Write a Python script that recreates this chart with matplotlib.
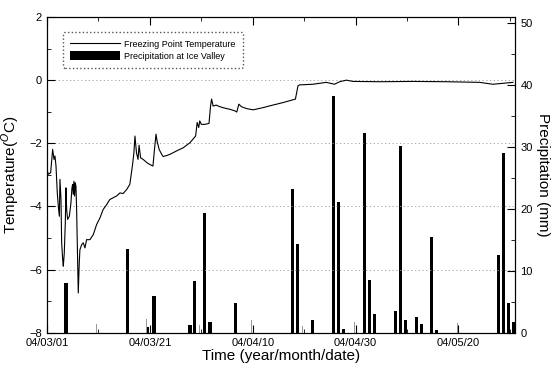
import matplotlib.pyplot as plt
from matplotlib.ticker import MultipleLocator

plt.rcParams['font.family'] = ['Liberation Sans', 'DejaVu Sans']

# Freezing point temperature (days since 04/03/01, degC)
temp_day = [0.0, 0.26, 0.71, 1.1, 1.36, 1.55, 1.75, 2.0, 2.2, 2.4, 2.52, 2.72, 2.85, 3.05,
            3.17, 3.36, 3.56, 3.69, 3.82, 4.01, 4.34, 4.66, 4.85, 4.98, 5.11, 5.24, 5.37,
            5.5, 5.63, 5.76, 5.95, 6.08, 6.27, 6.4, 6.73, 7.05, 7.38, 7.7, 8.35, 9.0, 9.65,
            10.3, 10.9, 11.6, 12.2, 12.9, 13.5, 14.2, 14.8, 15.5, 16.1, 16.6, 16.9, 17.1,
            17.4, 17.7, 17.9, 18.2, 18.7, 19.4, 20.0, 20.6, 20.9, 21.2, 21.4, 21.8, 22.3,
            22.6, 23.9, 25.2, 26.5, 27.8, 28.9, 29.2, 29.5, 29.7, 30.0, 30.7, 31.5, 31.8,
            32.0, 32.3, 32.9, 33.6, 34.2, 34.9, 35.5, 36.5, 36.9, 37.3, 37.8, 38.8, 40.1,
            42.0, 43.9, 45.9, 48.3, 48.8, 49.1, 51.7, 54.3, 55.9, 56.9, 58.2, 59.5, 64.7,
            71.1, 77.6, 84.1, 86.7, 90.6]
temp_val = [-2.83, -2.98, -2.93, -2.19, -2.51, -2.40, -2.72, -3.57, -3.99, -4.31, -3.14,
            -3.78, -5.15, -5.68, -5.89, -5.47, -4.52, -3.41, -4.10, -4.41, -4.31, -3.88,
            -3.41, -3.30, -3.62, -3.20, -3.67, -3.25, -3.36, -4.10, -5.68, -6.74, -5.79,
            -5.37, -5.21, -5.15, -5.31, -5.05, -5.05, -4.89, -4.57, -4.36, -4.10, -3.94,
            -3.78, -3.72, -3.67, -3.57, -3.59, -3.46, -3.30, -2.72, -2.30, -1.77, -2.30,
            -2.51, -2.06, -2.46, -2.51, -2.61, -2.67, -2.72, -2.19, -1.71, -1.93, -2.19,
            -2.35, -2.42, -2.35, -2.24, -2.14, -1.98, -1.77, -1.34, -1.50, -1.29, -1.40,
            -1.40, -1.37, -0.82, -0.60, -0.82, -0.79, -0.84, -0.87, -0.90, -0.92, -0.97,
            -1.01, -0.76, -0.84, -0.90, -0.94, -0.87, -0.79, -0.71, -0.60, -0.18, -0.15,
            -0.13, -0.07, -0.13, -0.05, 0.0, -0.04, -0.05, -0.04, -0.05, -0.07, -0.13, -0.07]

# Precipitation at Ice Valley (mm)
rain_day = [3.7, 15.7, 19.6, 20.8, 27.8, 28.7, 30.7, 31.7, 36.7, 47.8, 48.7, 51.7, 55.7,
            56.7, 57.6, 61.7, 62.7, 63.7, 67.8, 68.7, 69.7, 71.8, 72.8, 74.8, 75.7, 87.8,
            88.7, 89.7, 90.7]
rain_mm = [8.1, 13.5, 1.0, 6.0, 1.3, 8.4, 19.4, 1.8, 4.8, 23.2, 14.3, 2.1, 38.2, 21.2,
           0.6, 32.2, 8.6, 3.0, 3.5, 30.1, 2.1, 2.5, 1.5, 15.4, 0.5, 12.6, 29.1, 4.8, 1.8]
# thin light traces
trace_day = [9.7, 19.3, 29.7, 39.8, 49.7, 59.8, 79.8]
trace_mm = [1.4, 2.2, 1.3, 2.1, 1.1, 1.8, 1.6]

xtick_pos = [0, 20, 40, 60, 80]
xtick_lab = ['04/03/01', '04/03/21', '04/04/10', '04/04/30', '04/05/20']

fig = plt.figure(figsize=(5.51, 3.69), dpi=100)
ax = fig.add_axes([0.0853, 0.098, 0.8494, 0.856])
ax2 = ax.twinx()

ax2.bar(rain_day, rain_mm, width=0.6, color='black', label='Precipitation at Ice Valley')
ax2.bar(trace_day, trace_mm, width=0.2, color='#999999')
ax2.set_ylim(0, 51)
ax2.yaxis.set_major_locator(MultipleLocator(10))
ax2.yaxis.set_minor_locator(MultipleLocator(5))
ax2.tick_params(axis='y', which='both', direction='in', labelsize=8, pad=4)
ax2.tick_params(axis='y', which='major', length=6)
ax2.tick_params(axis='y', which='minor', length=3)
ax2.set_ylabel('Precipitation (mm)', fontsize=11, rotation=270, labelpad=12)

ax.set_zorder(ax2.get_zorder() + 1)
ax.patch.set_visible(False)
for y in [0, -2, -4, -6]:
    ax.axhline(y, color='#999999', lw=0.6, ls=(0, (1.5, 3)), zorder=0)
ax.plot(temp_day, temp_val, color='black', lw=0.8, label='Freezing Point Temperature')
ax.set_xlim(0, 91)
ax.set_ylim(-8, 2)
ax.set_xticks(xtick_pos)
ax.set_xticklabels(xtick_lab)
ax.xaxis.set_minor_locator(MultipleLocator(10))
ax.yaxis.set_major_locator(MultipleLocator(2))
ax.yaxis.set_minor_locator(MultipleLocator(1))
ax.tick_params(which='both', direction='in', top=True, labelsize=8)
ax.tick_params(which='major', length=6)
ax.tick_params(which='minor', length=3)
ax.set_xlabel('Time (year/month/date)', fontsize=11, labelpad=1)
ax.set_ylabel('Temperature($^{O}$C)', fontsize=11, labelpad=6)

h1, l1 = ax.get_legend_handles_labels()
h2, l2 = ax2.get_legend_handles_labels()
leg = ax.legend(h1 + h2, l1 + l2, loc='upper left', bbox_to_anchor=(0.034, 0.953),
                borderaxespad=0, fontsize=6.5, handlelength=5.5, handleheight=1.2,
                handletextpad=0.5, fancybox=True, framealpha=1,
                borderpad=0.8, labelspacing=0.25)
leg.get_frame().set_linestyle(':')
leg.get_frame().set_edgecolor('#555555')

fig.savefig('out.png', dpi=100)
